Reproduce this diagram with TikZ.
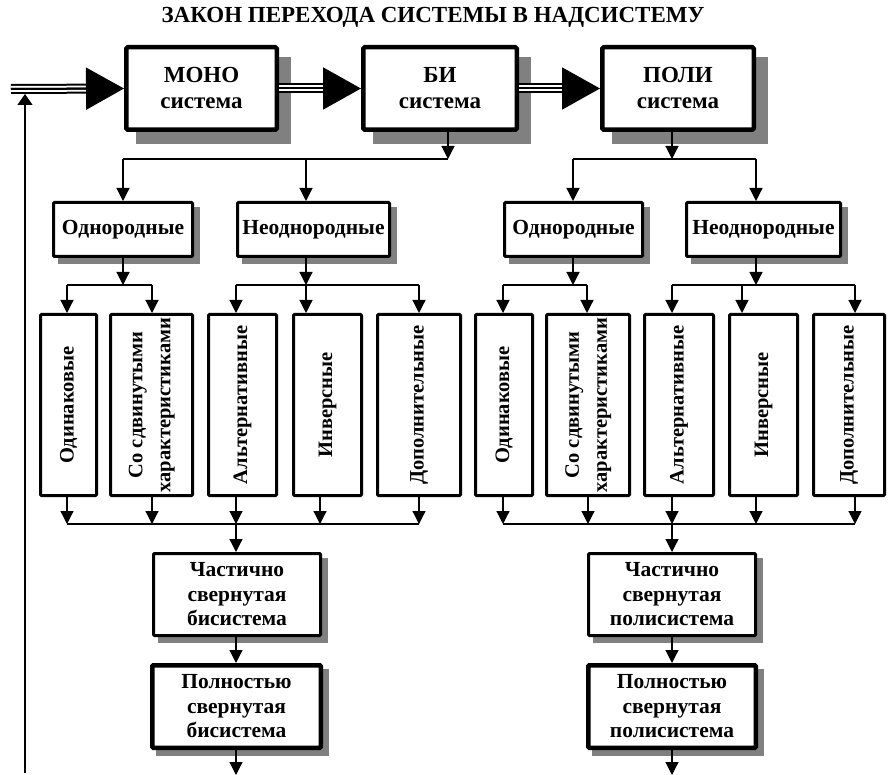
\documentclass[tikz,border=0pt]{standalone}
\usepackage{fontspec}
\setmainfont{Liberation Serif}
\usepackage{graphicx}
\usetikzlibrary{arrows.meta}
\definecolor{shadowgray}{RGB}{128,128,128}
\pgfdeclarelayer{bg}
\pgfsetlayers{bg,main}
\tikzset{
  bigbox/.style={draw, line width=4.5pt, fill=white, rounded corners=1.5pt, align=center, inner sep=0pt,
    font=\bfseries\fontsize{23}{26}\selectfont},
  midbox/.style={draw, line width=3pt, fill=white, rounded corners=1pt, align=center, inner sep=0pt,
    font=\bfseries\fontsize{21.5}{24.5}\selectfont},
  thickbox/.style={midbox, line width=4.5pt},
  vbox/.style={draw, line width=3pt, fill=white, rounded corners=1pt, inner sep=0pt, minimum height=181pt,
    font=\bfseries\fontsize{20.5}{24}\selectfont},
  conn/.style={line width=1.2pt, -{Triangle[length=13pt,width=13pt]}},
  fbconn/.style={line width=1.2pt, -{Triangle[length=11pt,width=15pt]}},
  plainline/.style={line width=1.2pt},
  triple/.style={line width=10pt, shorten >=35pt,
    postaction={draw=white, line width=6pt}, postaction={draw=black, line width=2pt}},
  bigtip/.style={line width=2pt, -{Triangle[length=38pt,width=42pt]}},
}
\newcommand{\vtext}[1]{\rotatebox{90}{#1}}
\begin{document}
\begin{tikzpicture}[x=1pt,y=-1pt]
\useasboundingbox (0,0) rectangle (888,775);

% title
\node[font=\bfseries\fontsize{23}{27}\selectfont] (title) at (433,17) {ЗАКОН ПЕРЕХОДА СИСТЕМЫ В НАДСИСТЕМУ};

% top level
\node[bigbox, minimum width=150.5pt, minimum height=82.5pt] (mono) at (201.5,88.5) {МОНО\\система};
\node[bigbox, minimum width=153.5pt, minimum height=82.5pt] (bi) at (440,88.5) {БИ\\система};
\node[bigbox, minimum width=151.5pt, minimum height=82.5pt] (poli) at (678,88.5) {ПОЛИ\\система};

% second level
\node[midbox, minimum width=139pt, minimum height=54pt] (odnL) at (123,229.5) {Однородные};
\node[midbox, minimum width=152pt, minimum height=54pt] (neodnL) at (313.5,229.5) {Неоднородные};
\node[midbox, minimum width=138pt, minimum height=54pt] (odnR) at (573.5,229.5) {Однородные};
\node[midbox, minimum width=154pt, minimum height=54pt] (neodnR) at (763.5,229.5) {Неоднородные};

% vertical boxes
\node[vbox, minimum width=56pt] (v1) at (68.5,405) {\vtext{Одинаковые}};
\node[vbox, minimum width=82pt] (v2) at (151.5,405) {\vtext{\begin{tabular}{@{}c@{}}Со сдвинутыми\\[4pt]характеристиками\end{tabular}}};
\node[vbox, minimum width=68pt] (v3) at (242.5,405) {\vtext{Альтернативные}};
\node[vbox, minimum width=68pt] (v4) at (327.5,405) {\vtext{Инверсные}};
\node[vbox, minimum width=83pt] (v5) at (419,405) {\vtext{Дополнительные}};
\node[vbox, minimum width=57pt] (v6) at (504,405) {\vtext{Одинаковые}};
\node[vbox, minimum width=83pt] (v7) at (588,405) {\vtext{\begin{tabular}{@{}c@{}}Со сдвинутыми\\[4pt]характеристиками\end{tabular}}};
\node[vbox, minimum width=69pt] (v8) at (679,405) {\vtext{Альтернативные}};
\node[vbox, minimum width=68pt] (v9) at (763.5,405) {\vtext{Инверсные}};
\node[vbox, minimum width=71pt] (v10) at (849,405) {\vtext{Дополнительные}};

% bottom boxes
\node[midbox, minimum width=167pt, minimum height=82pt] (chL) at (237,594.5) {Частично\\свернутая\\бисистема};
\node[thickbox, minimum width=168.5pt, minimum height=82.5pt] (polnL) at (236.5,706.5) {Полностью\\свернутая\\бисистема};
\node[midbox, minimum width=167pt, minimum height=82pt] (chR) at (672,594.5) {Частично\\свернутая\\полисистема};
\node[thickbox, minimum width=167.5pt, minimum height=82.5pt] (polnR) at (672,706.5) {Полностью\\свернутая\\полисистема};

% shadows
\begin{pgfonlayer}{bg}
\foreach \n in {mono,bi,poli}
  \fill[shadowgray] ([shift={(12,12)}]\n.south west) rectangle ([shift={(12,12)}]\n.north east);
\foreach \n in {odnL,neodnL,odnR,neodnR,chL,polnL,chR,polnR}
  \fill[shadowgray] ([shift={(6,6)}]\n.south west) rectangle ([shift={(6,6)}]\n.north east);
\end{pgfonlayer}

% triple arrows
\coordinate (in) at (11,89);
\draw[triple] (in) -- (mono.west);
\draw[bigtip] (in) -- (mono.west);
\draw[triple] (mono.east) -- (bi.west);
\draw[bigtip] (mono.east) -- (bi.west);
\draw[triple] (bi.east) -- (poli.west);
\draw[bigtip] (bi.east) -- (poli.west);

% feedback
\coordinate (fbstart) at (25,773);
\coordinate (fbtip) at (25,94);
\draw[fbconn] (fbstart) -- (fbtip);

% BI branch
\coordinate (jB) at (448,159);
\coordinate (jBl) at (123,159);
\coordinate (jBm) at (306,159);
\draw[conn] (jB |- bi.south) -- (jB);
\draw[plainline] (jBl) -- (jB);
\draw[conn] (jBl) -- (jBl |- odnL.north);
\draw[conn] (jBm) -- (jBm |- neodnL.north);

% POLI branch
\coordinate (jP) at (672,159);
\coordinate (jPl) at (573,159);
\coordinate (jPr) at (756,159);
\draw[conn] (jP |- poli.south) -- (jP);
\draw[plainline] (jPl) -- (jPr);
\draw[conn] (jPl) -- (jPl |- odnR.north);
\draw[conn] (jPr) -- (jPr |- neodnR.north);

% level 2 -> 3, left
\coordinate (a1) at (123,285);
\coordinate (a1l) at (67,285);
\coordinate (a1r) at (152,285);
\draw[conn] (a1 |- odnL.south) -- (a1);
\draw[plainline] (a1l) -- (a1r);
\draw[conn] (a1l) -- (a1l |- v1.north);
\draw[conn] (a1r) -- (a1r |- v2.north);
\coordinate (a2) at (306,285);
\coordinate (a2l) at (236,285);
\coordinate (a2r) at (419,285);
\draw[conn] (a2 |- neodnL.south) -- (a2);
\draw[plainline] (a2l) -- (a2r);
\draw[conn] (a2l) -- (a2l |- v3.north);
\draw[conn] (a2) -- (a2 |- v4.north);
\draw[conn] (a2r) -- (a2r |- v5.north);

% level 2 -> 3, right
\coordinate (b1) at (573,285);
\coordinate (b1l) at (503,285);
\coordinate (b1r) at (587,285);
\draw[conn] (b1 |- odnR.south) -- (b1);
\draw[plainline] (b1l) -- (b1r);
\draw[conn] (b1l) -- (b1l |- v6.north);
\draw[conn] (b1r) -- (b1r |- v7.north);
\coordinate (b2) at (756,285);
\coordinate (b2l) at (672,285);
\coordinate (b2m) at (742,285);
\coordinate (b2r) at (855,285);
\draw[conn] (b2 |- neodnR.south) -- (b2);
\draw[plainline] (b2l) -- (b2r);
\draw[conn] (b2l) -- (b2l |- v8.north);
\draw[conn] (b2m) -- (b2m |- v9.north);
\draw[conn] (b2r) -- (b2r |- v10.north);

% level 3 -> bottom, left
\coordinate (c1) at (67,524);
\coordinate (c2) at (152,524);
\coordinate (c3) at (236,524);
\coordinate (c4) at (320,524);
\coordinate (c5) at (419,524);
\draw[plainline] (c1) -- (c5);
\draw[conn] (c1 |- v1.south) -- (c1);
\draw[conn] (c2 |- v2.south) -- (c2);
\draw[conn] (c3 |- v3.south) -- (c3);
\draw[conn] (c4 |- v4.south) -- (c4);
\draw[conn] (c5 |- v5.south) -- (c5);
\draw[conn] (c3) -- (c3 |- chL.north);

% level 3 -> bottom, right
\coordinate (d1) at (503,524);
\coordinate (d2) at (588,524);
\coordinate (d3) at (672,524);
\coordinate (d4) at (756,524);
\coordinate (d5) at (855,524);
\draw[plainline] (d1) -- (d5);
\draw[conn] (d1 |- v6.south) -- (d1);
\draw[conn] (d2 |- v7.south) -- (d2);
\draw[conn] (d3 |- v8.south) -- (d3);
\draw[conn] (d4 |- v9.south) -- (d4);
\draw[conn] (d5 |- v10.south) -- (d5);
\draw[conn] (d3) -- (d3 |- chR.north);

% bottom chain
\coordinate (eL) at (236,775);
\coordinate (eR) at (672,775);
\draw[conn] (eL |- chL.south) -- (eL |- polnL.north);
\draw[conn] (eL |- polnL.south) -- (eL);
\draw[conn] (eR |- chR.south) -- (eR |- polnR.north);
\draw[conn] (eR |- polnR.south) -- (eR);
\end{tikzpicture}
\end{document}
